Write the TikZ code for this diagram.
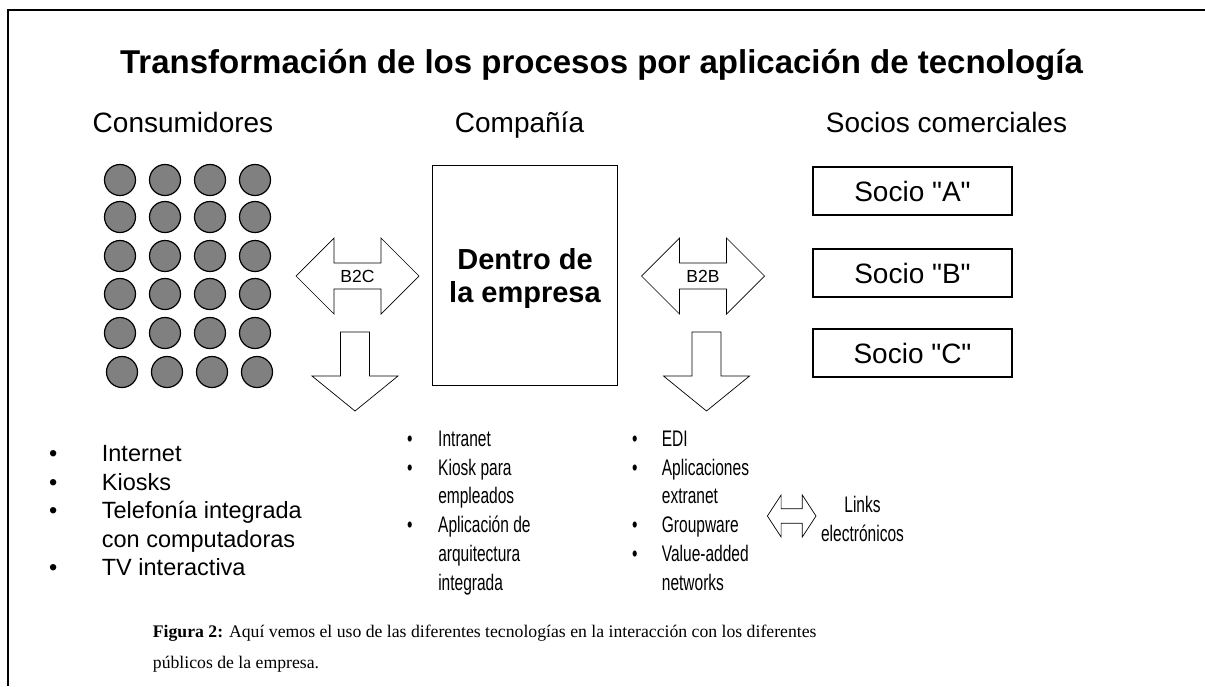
\documentclass[tikz,border=0pt]{standalone}
\usepackage{fontspec}
\setmainfont{Liberation Serif}
\setsansfont{Liberation Sans}
\usepackage{graphicx}
\newcommand{\headfont}{\fontsize{28}{33}\selectfont\sffamily}
\newcommand{\listfont}{\fontsize{23.5}{28.5}\selectfont\sffamily}
\newcommand{\narrowfont}{\fontsize{22.5}{28.8}\selectfont\sffamily}
\newcommand{\comillas}[1]{\textquotedbl#1\textquotedbl}

\begin{document}
\begin{tikzpicture}[x=1pt,y=-1pt,
  dot/.style={circle,draw=black,line width=1.2pt,fill=gray,minimum size=31pt,inner sep=0pt},
  socio/.style={draw=black,line width=1.1pt,minimum width=199pt,minimum height=48pt,inner sep=0pt,font=\headfont},
  head/.style={inner sep=0pt,anchor=base,font=\headfont},
  tag/.style={inner sep=0pt,font=\fontsize{17.5}{18}\selectfont\sffamily},
  blockarrow/.style={draw=black,line width=0.7pt,line join=miter},
  lista/.style={inner sep=0pt,anchor=north west}]
\useasboundingbox (0,0) rectangle (1205,686);
\draw[line width=1.8pt] (8,686) -- (8,10) -- (1205,10);

\node[inner sep=0pt,anchor=base,font=\fontsize{33}{38}\selectfont\sffamily\bfseries] (titulo) at (601.5,73)
  {Transformación de los procesos por aplicación de tecnología};

\node[head] (consumidores) at (183,132) {Consumidores};
\node[head] (compania) at (519.5,132) {Compañía};
\node[head] (socios) at (946.5,132) {Socios comerciales};

% consumidores
\foreach \i in {0,...,3} {
  \foreach \y [count=\j] in {180,217,256,294,333}
    \node[dot] (c\i\j) at (120+45*\i,\y) {};
  \node[dot] (c\i6) at (122+45*\i,372) {};
}

% empresa
\draw[line width=0.9pt] (432.7,165) rectangle (617.7,385);
\node[inner sep=0pt,align=center,font=\fontsize{29}{33}\selectfont\sffamily\bfseries] (empresa) at (525,278)
  {Dentro de\\la empresa};

% socios
\node[socio] (socioA) at (912.5,191) {Socio \comillas{A}};
\node[socio] (socioB) at (912.5,273) {Socio \comillas{B}};
\node[socio] (socioC) at (912.5,353) {Socio \comillas{C}};

% flechas B2C / B2B
\node[tag] (b2c) at (357.5,276) {B2C};
\node[tag] (b2b) at (703,276) {B2B};
\foreach \n in {b2c,b2b}
  \draw[blockarrow] (\n.center) ++(-61.5,0) -- ++(38,-38) -- ++(0,25) -- ++(47,0) -- ++(0,-25)
    -- ++(38,38) -- ++(-38,38) -- ++(0,-25) -- ++(-47,0) -- ++(0,25) -- cycle;

\coordinate (bajaC) at (355,332);
\coordinate (bajaB) at (706.5,332);
\foreach \n in {bajaC,bajaB}
  \draw[blockarrow] (\n) ++(-14.5,0) -- ++(29,0) -- ++(0,44) -- ++(28.5,0) -- ++(-43,35)
    -- ++(-43,-35) -- ++(28.5,0) -- cycle;

% listas
\node[lista] (usosC) at (49,441.5) {\listfont
  \begin{tabular}{@{}p{52.7pt}@{}l@{}}
  \textbullet & Internet\\
  \textbullet & Kiosks\\
  \textbullet & Telefonía integrada\\
              & con computadoras\\
  \textbullet & TV interactiva
  \end{tabular}};
\node[lista] (usosE) at (407,426) {\narrowfont\scalebox{0.69}[1]{%
  \begin{tabular}{@{}p{45pt}@{}l@{}}
  \textbullet & Intranet\\
  \textbullet & Kiosk para\\
              & empleados\\
  \textbullet & Aplicación de\\
              & arquitectura\\
              & integrada
  \end{tabular}}};
\node[lista] (usosS) at (632,426) {\narrowfont\scalebox{0.69}[1]{%
  \begin{tabular}{@{}p{43pt}@{}l@{}}
  \textbullet & EDI\\
  \textbullet & Aplicaciones\\
              & extranet\\
  \textbullet & Groupware\\
  \textbullet & Value-added\\
              & networks
  \end{tabular}}};

% links electronicos
\node[inner sep=0pt] (links) at (862.5,521) {\narrowfont\scalebox{0.69}[1]{%
  \begin{tabular}{@{}c@{}}Links\\electrónicos\end{tabular}}};
\coordinate (enlace) at (791.7,516);
\draw[blockarrow] (enlace) ++(-24.3,0) -- ++(13.7,-21) -- ++(0,13.8) -- ++(21.2,0) -- ++(0,-13.8)
  -- ++(13.7,21) -- ++(-13.7,21) -- ++(0,-13.8) -- ++(-21.2,0) -- ++(0,13.8) -- cycle;

% pie de figura
\node[inner sep=0pt,anchor=north west,align=left,font=\fontsize{17.7}{31.6}\selectfont\rmfamily] (pie) at (152.7,624.5)
  {\textbf{Figura 2:} Aquí vemos el uso de las diferentes tecnologías en la interacción con los diferentes\\
   públicos de la empresa.};
\end{tikzpicture}
\end{document}
